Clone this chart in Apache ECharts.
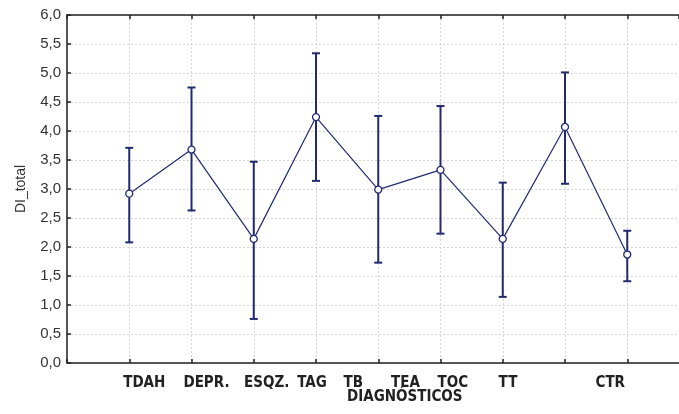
<!DOCTYPE html>
<html>
<head>
<meta charset="utf-8">
<script src="https://cdn.jsdelivr.net/npm/echarts@6/dist/echarts.min.js"></script>
<style>html,body{margin:0;padding:0;background:#fff}#c{width:679px;height:414px}</style>
</head>
<body>
<div id="c"></div>
<script>
const categories = ['TDAH', 'DEPR.', 'ESQZ.', 'TAG', 'TB', 'TEA', 'TOC', 'TT', 'CTR'];
const means = [2.92, 3.68, 2.14, 4.24, 2.99, 3.33, 2.14, 4.07, 1.87];
const lowerCI = [2.08, 2.63, 0.76, 3.14, 1.73, 2.23, 1.14, 3.09, 1.41];
const upperCI = [3.71, 4.75, 3.47, 5.34, 4.26, 4.43, 3.11, 5.01, 2.28];
const yTicks = [0, 0.5, 1, 1.5, 2, 2.5, 3, 3.5, 4, 4.5, 5, 5.5, 6];
const yTitle = 'DI_total';
const xTitle = 'DIAGNÓSTICOS';

// label offsets (px) relative to the tick, per category position
const labelShift = [0, 15, 15, 13, -4, -25, -35, -50, -57, -17, 0];
const COLOR = '#222a72';
const labelFont = {fontFamily: '"DejaVu Sans Condensed", "Liberation Sans", Arial', fontSize: 15, fontWeight: 'bold', color: '#222'};
const rich = {};
labelShift.forEach((d, i) => {
  rich['s' + i] = Object.assign({}, labelFont, {padding: d >= 0 ? [0, 0, 0, 2 * d] : [0, -2 * d, 0, 0]});
});
const XMAX = 612 / 62.25;

const chart = echarts.init(document.getElementById('c'));
chart.setOption({
  animation: false,
  backgroundColor: '#fff',
  grid: {left: 67, top: 15, right: 0, bottom: 51, containLabel: false},
  xAxis: [{
    type: 'value', min: 0, max: XMAX, interval: 1,
    axisLine: {lineStyle: {color: '#222', width: 1.5}},
    axisTick: {inside: true, length: 4, lineStyle: {color: '#222', width: 1.5}},
    axisLabel: {margin: 13, showMaxLabel: false,
      formatter: v => (v >= 1 && v <= categories.length && v % 1 === 0) ? '{s' + v + '|' + categories[v - 1] + '}' : '',
      rich: rich},
    splitLine: {show: true, lineStyle: {color: '#d4d4d4', type: [2, 2], width: 1}}
  }, {
    type: 'value', min: 0, max: XMAX, interval: 1, position: 'top',
    axisLine: {lineStyle: {color: '#222', width: 1.5}},
    axisTick: {inside: true, length: 4, lineStyle: {color: '#222', width: 1.5}},
    axisLabel: {show: false}, splitLine: {show: false}
  }],
  yAxis: {
    type: 'value', min: 0, max: 6, interval: 0.5,
    name: yTitle, nameLocation: 'middle', nameRotate: 90, nameGap: 39,
    nameTextStyle: {fontFamily: '"Liberation Sans", Arial', fontSize: 14, color: '#333'},
    axisLine: {show: true, lineStyle: {color: '#222', width: 1.5}},
    axisTick: {show: true, inside: true, length: 4, lineStyle: {color: '#222', width: 1.5}},
    axisLabel: {margin: 6, fontFamily: '"Liberation Sans", Arial', fontSize: 15, color: '#333',
      formatter: v => yTicks.indexOf(v) >= 0 ? v.toFixed(1).replace('.', ',') : ''},
    splitLine: {show: true, lineStyle: {color: '#d4d4d4', type: [2, 2], width: 1}}
  },
  graphic: [{
    type: 'text', left: 347, top: 390,
    style: {text: xTitle, fontFamily: '"DejaVu Sans Condensed", "Liberation Sans", Arial', fontSize: 15, fontWeight: 'bold', fill: '#222', textAlign: 'center'}
  }],
  series: [{
    type: 'custom',
    data: categories.map((c, i) => [i + 1, lowerCI[i], upperCI[i]]),
    renderItem: (params, api) => {
      const x = api.value(0);
      const lo = api.coord([x, api.value(1)]);
      const hi = api.coord([x, api.value(2)]);
      const w = 4;
      const st = {stroke: COLOR, lineWidth: 2};
      return {type: 'group', children: [
        {type: 'line', shape: {x1: lo[0], y1: lo[1], x2: hi[0], y2: hi[1]}, style: st},
        {type: 'line', shape: {x1: lo[0] - w, y1: lo[1], x2: lo[0] + w, y2: lo[1]}, style: st},
        {type: 'line', shape: {x1: hi[0] - w, y1: hi[1], x2: hi[0] + w, y2: hi[1]}, style: st}
      ]};
    },
    z: 2
  }, {
    type: 'line',
    data: categories.map((c, i) => [i + 1, means[i]]),
    symbol: 'circle', symbolSize: 7,
    lineStyle: {color: COLOR, width: 1.2},
    itemStyle: {color: '#fff', borderColor: COLOR, borderWidth: 1.3},
    z: 3
  }]
});
</script>
</body>
</html>
